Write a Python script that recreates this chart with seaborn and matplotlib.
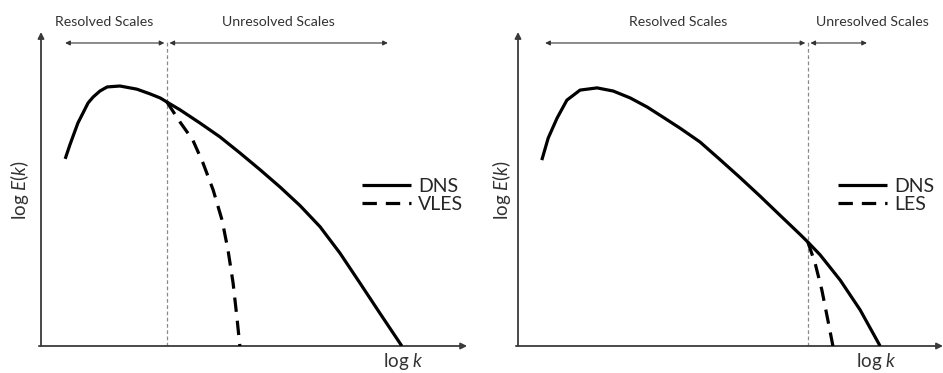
import numpy as np
import pandas as pd
import matplotlib
matplotlib.use("Agg")
import matplotlib.pyplot as plt
import seaborn as sns

sns.set_style("white")
plt.rcParams["font.family"] = ["Lato", "DejaVu Sans"]
plt.rcParams["mathtext.fontset"] = "custom"
plt.rcParams["mathtext.rm"] = "Lato"
plt.rcParams["mathtext.it"] = "Lato:italic"

# ---- data (schematic values, arbitrary log units 0..10) ----
left_dns_k = [0.57, 0.68, 0.75, 0.87, 0.99, 1.11, 1.23, 1.39, 1.56, 1.86, 2.26, 2.57,
              2.81, 2.97, 3.28, 3.75, 4.22, 4.69, 5.17, 5.64, 6.11, 6.58, 7.05, 7.52,
              7.99, 8.51]
left_dns_E = [5.96, 6.40, 6.66, 7.10, 7.42, 7.74, 7.93, 8.12, 8.25, 8.28, 8.18, 8.03,
              7.90, 7.77, 7.52, 7.10, 6.66, 6.15, 5.61, 5.06, 4.47, 3.80, 2.96, 2.01,
              1.05, 0.0]
vles_k = [2.97, 3.28, 3.58, 3.82, 4.06, 4.27, 4.41, 4.53, 4.62, 4.69]
vles_E = [7.77, 7.13, 6.56, 5.83, 4.97, 4.01, 3.06, 2.01, 0.92, 0.0]
left_cut = 2.97

right_dns_k = [0.56, 0.71, 0.92, 1.15, 1.46, 1.86, 2.24, 2.64, 3.04, 3.41, 3.81, 4.28,
               4.75, 5.22, 5.69, 6.16, 6.64, 6.82, 7.11, 7.58, 8.05, 8.52]
right_dns_E = [5.92, 6.62, 7.26, 7.83, 8.15, 8.22, 8.12, 7.90, 7.61, 7.29, 6.94, 6.50,
               5.94, 5.37, 4.78, 4.17, 3.55, 3.31, 2.90, 2.10, 1.15, 0.0]
les_k = [6.82, 6.99, 7.15, 7.29, 7.41]
les_E = [3.31, 2.64, 1.78, 0.83, 0.0]
right_cut = 6.82

region_labels = ["Resolved Scales", "Unresolved Scales"]
series_left = ["DNS", "VLES"]
series_right = ["DNS", "LES"]

fig = plt.figure(figsize=(9.43, 3.73), dpi=100)
axL = fig.add_axes([41/943, 27/373, 424/943, 314/373])
axR = fig.add_axes([518/943, 27/373, 425/943, 314/373])

AX_COL = "#3a3a3a"
TXT_COL = "#333333"
DASH = (0, (4.5, 2.8))
LINE_KW = dict(color="black", lw=2.3, sort=False, estimator=None, zorder=3,
               solid_joinstyle="round", solid_capstyle="butt")


def setup(ax, xend):
    ax.set_xlim(0, 10)
    ax.set_ylim(0, 10)
    ax.set_xticks([])
    ax.set_yticks([])
    for s in ax.spines.values():
        s.set_visible(False)
    ax.patch.set_alpha(0)
    ap = dict(arrowstyle="-|>", color=AX_COL, lw=1.3, mutation_scale=9,
              shrinkA=0, shrinkB=0)
    ax.annotate("", xy=(0, 10.0), xytext=(0, 0), xycoords="data",
                arrowprops=ap, annotation_clip=False)
    ax.annotate("", xy=(xend, 0), xytext=(-0.05, 0), xycoords="data",
                arrowprops=ap, annotation_clip=False)


def scale_arrows(ax, x0, cut, x1, c_res, c_unres):
    ap = dict(arrowstyle="<|-|>", color=TXT_COL, lw=0.8, mutation_scale=7,
              shrinkA=0, shrinkB=0)
    y = 9.65
    ax.annotate("", xy=(cut - 0.06, y), xytext=(x0, y), arrowprops=ap,
                annotation_clip=False)
    ax.annotate("", xy=(x1, y), xytext=(cut + 0.06, y), arrowprops=ap,
                annotation_clip=False)
    ax.text(c_res, 10.32, region_labels[0], ha="center", va="center",
            fontsize=10.2, color=TXT_COL, clip_on=False)
    ax.text(c_unres, 10.32, region_labels[1], ha="center", va="center",
            fontsize=10.2, color=TXT_COL, clip_on=False)
    ax.plot([cut, cut], [0, 9.75], color="#8a8a8a", lw=0.9,
            linestyle=(0, (3, 2)), zorder=1)


setup(axL, 10.05)
setup(axR, 10.0)

sns.lineplot(x=left_dns_k, y=left_dns_E, ax=axL, label=series_left[0], **LINE_KW)
sns.lineplot(x=vles_k, y=vles_E, ax=axL, linestyle=DASH,
             label=series_left[1], **LINE_KW)
sns.lineplot(x=right_dns_k, y=right_dns_E, ax=axR, label=series_right[0], **LINE_KW)
sns.lineplot(x=les_k, y=les_E, ax=axR, linestyle=DASH,
             label=series_right[1], **LINE_KW)

scale_arrows(axL, 0.57, left_cut, 8.18, 1.49, 5.59)
scale_arrows(axR, 0.64, right_cut, 8.21, 3.76, 8.33)

for ax, anchor in ((axL, (0.757, 0.479)), (axR, (0.753, 0.479))):
    ax.legend(frameon=False, loc="center left", bbox_to_anchor=anchor,
              fontsize=14, handlelength=2.5, handletextpad=0.4,
              labelspacing=0.05, borderpad=0, borderaxespad=0)

axL.text(8.54, -0.5, r"log $\mathit{k}$", ha="center", va="center",
         fontsize=13.5, color=TXT_COL, clip_on=False)
axR.text(8.42, -0.5, r"log $\mathit{k}$", ha="center", va="center",
         fontsize=13.5, color=TXT_COL, clip_on=False)
axL.text(-0.5, 4.95, r"log $\mathit{E}$($\mathit{k}$)", ha="center", va="center",
         rotation=90, fontsize=13.5, color=TXT_COL, clip_on=False)
axR.text(-0.38, 4.95, r"log $\mathit{E}$($\mathit{k}$)", ha="center", va="center",
         rotation=90, fontsize=13.5, color=TXT_COL, clip_on=False)

fig.savefig("out.png", dpi=100)
